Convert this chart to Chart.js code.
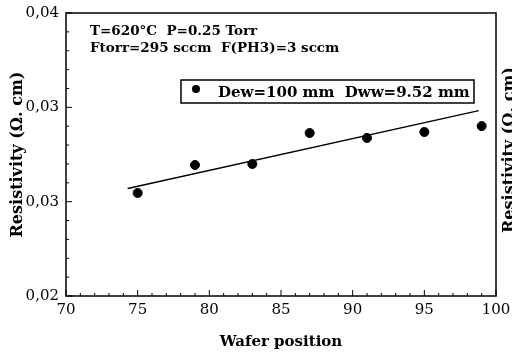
<!DOCTYPE html>
<html lang="en">
<head>
    <meta charset="UTF-8">
    <title>Resistivity vs wafer position</title>
    <style>
        html, body { margin: 0; padding: 0; background: #fff; }
        #wrap { width: 512px; height: 355px; }
    </style>
</head>
<body>
    <div id="wrap"><canvas id="myChart" width="512" height="355"></canvas></div>

    <script src="https://cdn.jsdelivr.net/npm/chart.js@4/dist/chart.umd.min.js"></script>
    <script>
    // values
    var waferPos    = [75, 79, 83, 87, 91, 95, 99];
    var resistivity = [0.02728, 0.02926, 0.02933, 0.03152, 0.03117, 0.03159, 0.03201];

    // the straight fit line, its two ends
    var fitX = [74.3, 98.8];
    var fitY = [0.0276, 0.0331];

    var xTicks = [70, 75, 80, 85, 90, 95, 100];
    var yTicks = [0.02, 0.026667, 0.033333, 0.04];
    var yTickLabels = ['0,02', '0,03', '0,03', '0,04'];

    var seriesLabel = 'Dew=100 mm  Dww=9.52 mm';
    var noteLines = ['T=620\u00B0C  P=0.25 Torr', 'Ftorr=295 sccm  F(PH3)=3 sccm'];
    var yTitle = 'Resistivity (\u03A9. cm)';
    var xTitle = 'Wafer position';

    var serif = '"DejaVu Serif", "Liberation Serif", serif';

    // frame, inward ticks, notes, legend box, and the cut off label of the next panel
    var decor = {
        id: 'decor',
        afterDraw: function(chart) {
            var ctx = chart.ctx, a = chart.chartArea;
            var xs = chart.scales.x, ys = chart.scales.y;
            ctx.save();
            ctx.strokeStyle = '#000';
            ctx.lineWidth = 1.5;
            ctx.strokeRect(a.left, a.top, a.right - a.left, a.bottom - a.top);

            ctx.lineWidth = 1;
            ctx.beginPath();
            for (var v = 70; v <= 100; v += 1) {
                var px = xs.getPixelForValue(v);
                var len = (v % 5 === 0) ? 6 : 3;
                ctx.moveTo(px, a.bottom); ctx.lineTo(px, a.bottom - len);
            }
            for (var k = 0; k <= 15; k++) {
                var py = ys.getPixelForValue(0.02 + k * 0.02 / 15);
                var l2 = (k % 5 === 0) ? 6 : 3;
                ctx.moveTo(a.left, py); ctx.lineTo(a.left + l2, py);
            }
            ctx.stroke();

            ctx.fillStyle = '#000';
            ctx.font = 'bold 13.5px ' + serif;
            ctx.textBaseline = 'alphabetic';
            ctx.textAlign = 'left';
            ctx.fillText(noteLines[0], 90, 35);
            ctx.fillText(noteLines[1], 90, 52);

            // legend box
            ctx.lineWidth = 1.5;
            ctx.strokeRect(181, 80, 293, 23);
            ctx.beginPath();
            ctx.arc(196, 89, 4, 0, Math.PI * 2);
            ctx.fill();
            ctx.font = 'bold 15px ' + serif;
            ctx.fillText(seriesLabel, 218, 97);

            // label of the neighbouring panel, cut by the edge
            ctx.translate(514, 150);
            ctx.rotate(-Math.PI / 2);
            ctx.textAlign = 'center';
            ctx.font = 'bold 16px ' + serif;
            ctx.fillText(yTitle, 0, 0);
            ctx.restore();
        }
    };

    var ctx = document.getElementById('myChart').getContext('2d');
    new Chart(ctx, {
        type: 'scatter',
        data: {
            datasets: [{
                label: seriesLabel,
                data: waferPos.map(function(x, i) { return { x: x, y: resistivity[i] }; }),
                backgroundColor: '#000',
                borderColor: '#000',
                pointRadius: 4.5,
                pointHoverRadius: 4.5
            }, {
                label: 'fit',
                type: 'line',
                data: fitX.map(function(x, i) { return { x: x, y: fitY[i] }; }),
                borderColor: '#000',
                borderWidth: 1.5,
                pointRadius: 0,
                fill: false
            }]
        },
        options: {
            responsive: false,
            animation: false,
            layout: { padding: { left: 0, right: 16, top: 13, bottom: 0 } },
            plugins: { legend: { display: false }, tooltip: { enabled: false } },
            scales: {
                x: {
                    type: 'linear',
                    min: 70, max: 100,
                    afterBuildTicks: function(s) { s.ticks = xTicks.map(function(v) { return { value: v }; }); },
                    afterFit: function(s) { s.height = 59; s.paddingLeft = 0; s.paddingRight = 0; },
                    grid: { display: false, drawTicks: false },
                    border: { display: false },
                    ticks: { color: '#000', font: { family: serif, size: 15 }, padding: 5, maxRotation: 0 },
                    title: { display: true, text: xTitle, color: '#000', font: { family: serif, size: 15, weight: 'bold' }, padding: { top: 4 } }
                },
                y: {
                    type: 'linear',
                    min: 0.02, max: 0.04,
                    afterBuildTicks: function(s) { s.ticks = yTicks.map(function(v) { return { value: v }; }); },
                    afterFit: function(s) { s.width = 66; s.paddingTop = 0; s.paddingBottom = 0; },
                    grid: { display: false, drawTicks: false },
                    border: { display: false },
                    ticks: {
                        color: '#000', font: { family: serif, size: 15 }, padding: 7,
                        callback: function(v, i) { return yTickLabels[i]; }
                    },
                    title: { display: true, text: yTitle, color: '#000', font: { family: serif, size: 16, weight: 'bold' }, padding: { top: 8, bottom: 0 } }
                }
            }
        },
        plugins: [decor]
    });
    </script>
</body>
</html>
